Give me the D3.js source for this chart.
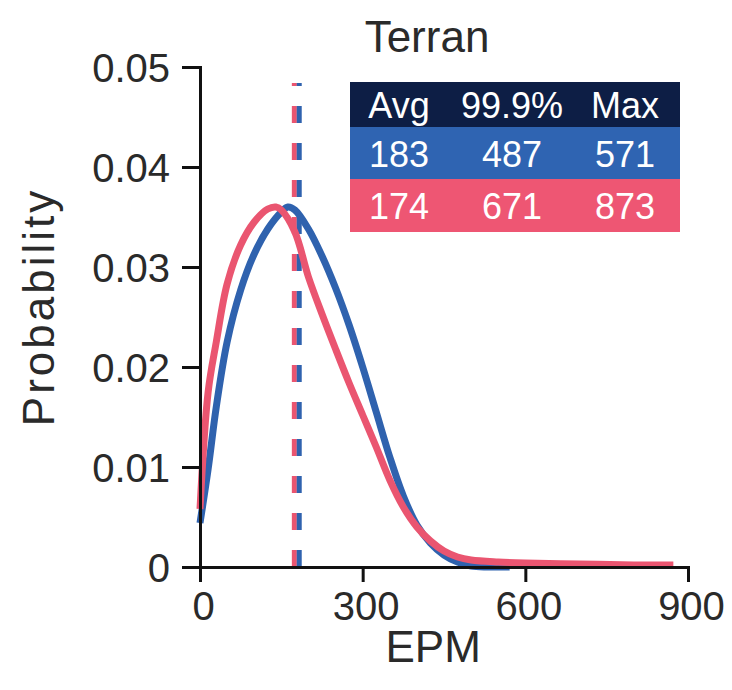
<!DOCTYPE html>
<html>
<head>
<meta charset="utf-8">
<script src="https://cdn.jsdelivr.net/npm/d3@7"></script>
<style>
  body { margin: 0; background: #fff; }
  svg text { font-family: "Liberation Sans", Arial, Helvetica, sans-serif; }
  .axis path, .axis line { stroke: #111; stroke-width: 3; }
  .axis text { font-size: 40px; fill: #2a2a2a; }
</style>
</head>
<body>
<div id="chart"></div>
<script>
var title = "Terran";
var xTicks = [0, 300, 600, 900];
var yTicks = [0, 0.01, 0.02, 0.03, 0.04, 0.05];

// blue series
var blueEpm  = [0, 15, 30, 50, 75, 100, 125, 150, 162, 175, 200, 225, 250, 275, 300, 325, 350, 375, 400, 425, 450, 475, 500, 530, 571];
var blueProb = [0.0044, 0.0098, 0.0160, 0.0225, 0.0277, 0.0313, 0.0338, 0.0355, 0.0360, 0.0357, 0.0338, 0.0311, 0.0279, 0.0242, 0.0200, 0.0155, 0.0110, 0.0071, 0.0042, 0.0024, 0.0012, 0.0005, 0.0001, 0.0, 0.0];

// pink series
var pinkEpm  = [0, 15, 30, 50, 75, 100, 125, 140, 150, 175, 200, 225, 250, 275, 300, 325, 350, 375, 400, 425, 450, 475, 500, 550, 600, 700, 800, 873];
var pinkProb = [0.0058, 0.0175, 0.0225, 0.0283, 0.0322, 0.0345, 0.0358, 0.0360, 0.0357, 0.0335, 0.0290, 0.0253, 0.0218, 0.0184, 0.0152, 0.0120, 0.0087, 0.0060, 0.0040, 0.0026, 0.0016, 0.0010, 0.0007, 0.0005, 0.0004, 0.0003, 0.0002, 0.0002];

var avgs = { pink: 174, blue: 183 };
var tableHeader = ["Avg", "99.9%", "Max"];
var tableRows = [["183", "487", "571"], ["174", "671", "873"]];

var colors = { blue: "#2f62ae", pink: "#ea5570" };
var rowFill = { head: "#0d1e45", blue: "#2f64b2", pink: "#ee5673" };

var margin = [67, 44, 123, 200],
    width = 732 - margin[3] - margin[1],
    height = 690 - margin[0] - margin[2];

var svg = d3.select("#chart").append("svg")
    .attr("width", 732)
    .attr("height", 690)
  .append("g")
    .attr("transform", "translate(" + margin[3] + "," + margin[0] + ")");

var x = d3.scaleLinear().domain([0, 900]).range([0, width]);
var y = d3.scaleLinear().domain([0, 0.05]).range([height, 0]);

var line = d3.line()
    .x(function(d) { return x(d[0]); })
    .y(function(d) { return y(d[1]); })
    .curve(d3.curveCatmullRom.alpha(0.5));

// dashed mean lines
var meanG = svg.append("g");
["pink", "blue"].forEach(function(k) {
  meanG.append("line")
    .attr("x1", x(avgs[k])).attr("x2", x(avgs[k]))
    .attr("y1", height).attr("y2", 16)
    .attr("stroke", colors[k])
    .attr("stroke-width", 5)
    .attr("stroke-dasharray", "17,20");
});

var blueData = d3.zip(blueEpm, blueProb);
var pinkData = d3.zip(pinkEpm, pinkProb);

svg.append("path")
    .datum(blueData)
    .attr("d", line)
    .attr("fill", "none")
    .attr("stroke", colors.blue)
    .attr("stroke-width", 7);

svg.append("path")
    .datum(pinkData)
    .attr("d", line)
    .attr("fill", "none")
    .attr("stroke", colors.pink)
    .attr("stroke-width", 7);

// axes
svg.append("g")
    .attr("class", "axis")
    .attr("transform", "translate(0," + height + ")")
    .call(d3.axisBottom(x).tickValues(xTicks).tickSize(15).tickSizeOuter(0).tickPadding(10))
  .selectAll("text").attr("dx", 3);

svg.append("g")
    .attr("class", "axis")
    .call(d3.axisLeft(y).tickValues(yTicks).tickSize(18).tickSizeOuter(0).tickPadding(12)
      .tickFormat(function(d) { return d === 0 ? "0" : d3.format(".2f")(d); }))
  .selectAll("text").attr("dy", "0.36em");

svg.selectAll(".axis .domain").attr("stroke-linecap", "square");

// axis titles
svg.append("text")
    .attr("x", x(430))
    .attr("y", height + 95)
    .attr("text-anchor", "middle")
    .style("font-size", "44px")
    .style("fill", "#2a2a2a")
    .text("EPM");

svg.append("text")
    .attr("transform", "translate(" + (54 - margin[3]) + "," + (y(0.026)) + ") rotate(-90)")
    .attr("text-anchor", "middle")
    .style("font-size", "44px")
    .style("letter-spacing", "3px")
    .style("fill", "#2a2a2a")
    .text("Probability");

svg.append("text")
    .attr("x", 427 - margin[3])
    .attr("y", 52 - margin[0])
    .attr("text-anchor", "middle")
    .style("font-size", "44px")
    .style("fill", "#2a2a2a")
    .text(title);

// summary table
var tx = d3.scaleBand().domain([0, 1, 2]).range([350 - margin[3], 680 - margin[3]]);
var colCenters = [399, 512, 625].map(function(v) { return v - margin[3]; });
var rowTops = [82, 127, 179, 232].map(function(v) { return v - margin[0]; });
var rows = [{ fill: rowFill.head, cells: tableHeader, base: 118 },
            { fill: rowFill.blue, cells: tableRows[0], base: 167 },
            { fill: rowFill.pink, cells: tableRows[1], base: 219 }];

var table = svg.append("g");
rows.forEach(function(r, i) {
  table.append("rect")
    .attr("x", tx.range()[0])
    .attr("y", rowTops[i])
    .attr("width", tx.range()[1] - tx.range()[0])
    .attr("height", rowTops[i + 1] - rowTops[i])
    .attr("fill", r.fill);
  table.selectAll(null)
    .data(r.cells)
  .enter().append("text")
    .attr("x", function(d, j) { return colCenters[j]; })
    .attr("y", r.base - margin[0])
    .attr("text-anchor", "middle")
    .style("font-size", "36px")
    .style("fill", "#fff")
    .text(function(d) { return d; });
});
</script>
</body>
</html>
